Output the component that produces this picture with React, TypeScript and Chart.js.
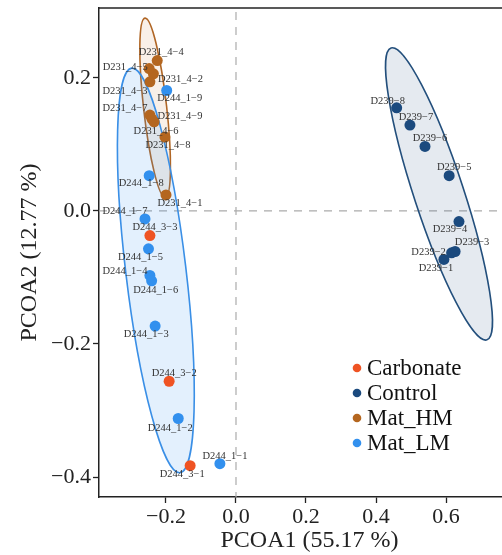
import { useEffect, useRef } from "react";
import { Chart, registerables } from "chart.js";

Chart.register(...registerables);

// ---------- data ----------
const groupNames = ["Carbonate", "Control", "Mat_HM", "Mat_LM"];

const carbonateLabels = ["D244_3−1", "D244_3−2", "D244_3−3"];
const carbonateX = [-0.131, -0.191, -0.246];
const carbonateY = [-0.383, -0.256, -0.037];

const controlLabels = ["D239−1", "D239−2", "D239−3", "D239−4", "D239−5", "D239−6", "D239−7", "D239−8"];
const controlX = [0.594, 0.616, 0.626, 0.637, 0.609, 0.54, 0.497, 0.459];
const controlY = [-0.073, -0.063, -0.061, -0.016, 0.053, 0.097, 0.129, 0.155];

const matHMLabels = ["D231_4−1", "D231_4−2", "D231_4−3", "D231_4−4", "D231_4−5", "D231_4−6", "D231_4−7", "D231_4−8", "D231_4−9"];
const matHMX = [-0.2, -0.236, -0.246, -0.225, -0.248, -0.234, -0.246, -0.203, -0.24];
const matHMY = [0.024, 0.206, 0.194, 0.226, 0.214, 0.134, 0.144, 0.111, 0.138];

const matLMLabels = ["D244_1−1", "D244_1−2", "D244_1−3", "D244_1−4", "D244_1−5", "D244_1−6", "D244_1−7", "D244_1−8", "D244_1−9"];
const matLMX = [-0.046, -0.165, -0.231, -0.246, -0.25, -0.241, -0.26, -0.248, -0.198];
const matLMY = [-0.38, -0.312, -0.173, -0.097, -0.057, -0.105, -0.012, 0.053, 0.181];

const xTicks = [-0.2, 0, 0.2, 0.4, 0.6];
const yTicks = [-0.4, -0.2, 0, 0.2];

// confidence ellipses (data units): centre, tip of the long axis, half-width in x units
const ellipseGroups = ["Control", "Mat_HM", "Mat_LM"];
const ellipseCX = [0.58, -0.231, -0.229];
const ellipseCY = [0.0256, 0.155, -0.0895];
const ellipseTipX = [0.443, -0.26, -0.298];
const ellipseTipY = [0.245, 0.2898, 0.2146];
const ellipseHalfWidth = [0.071, 0.033, 0.086];

// ---------- styles ----------
const FONT = "'Liberation Serif', 'Times New Roman', serif";
const groupColors: Record<string, string> = {
  Carbonate: "#EF5323",
  Control: "#1B4A7E",
  Mat_HM: "#B4661F",
  Mat_LM: "#3290EE",
};
const ellipseStroke: Record<string, string> = {
  Control: "#234F7C",
  Mat_HM: "#B06625",
  Mat_LM: "#3A8FE6",
};
const ellipseFill: Record<string, string> = {
  Control: "rgba(40,80,130,0.12)",
  Mat_HM: "rgba(200,120,50,0.11)",
  Mat_LM: "rgba(60,150,240,0.14)",
};
// label offsets (px) from the point
const labelOffsets: Record<string, [number, number]> = {
  "D244_3−1": [-8, 9],
  "D244_3−2": [5, -8],
  "D244_3−3": [5, -8],
  "D239−1": [-8, 9],
  "D239−2": [-23, -1],
  "D239−3": [17, -9],
  "D239−4": [-9, 8],
  "D239−5": [5, -8],
  "D239−6": [5, -8],
  "D239−7": [6, -8],
  "D239−8": [-9, -7],
  "D231_4−1": [14, 8],
  "D231_4−2": [27, 5],
  "D231_4−3": [-25, 9],
  "D231_4−4": [4, -8],
  "D231_4−5": [-24, -1],
  "D231_4−6": [2, 9],
  "D231_4−7": [-25, -7],
  "D231_4−8": [3, 8],
  "D231_4−9": [28, -3],
  "D244_1−1": [5, -7],
  "D244_1−2": [-8, 10],
  "D244_1−3": [-9, 8],
  "D244_1−4": [-25, -4],
  "D244_1−5": [-8, 8],
  "D244_1−6": [4, 9],
  "D244_1−7": [-20, -8],
  "D244_1−8": [-8, 8],
  "D244_1−9": [13, 8],
};

const fmt = (v: number) => {
  const s = Math.abs(v) < 1e-9 ? "0.0" : v.toFixed(1);
  return s.replace("-", "\u2212");
};

const zeroPad = (s: any) => {
  s.paddingTop = 0;
  s.paddingBottom = 0;
  s.paddingLeft = 0;
  s.paddingRight = 0;
};

const backgroundPlugin = {
  id: "bgLayers",
  beforeDatasetsDraw(chart: any) {
    const { ctx, chartArea, scales } = chart;
    const xs = scales.x;
    const ys = scales.y;
    ctx.save();
    ctx.beginPath();
    ctx.rect(chartArea.left, chartArea.top, chartArea.right - chartArea.left, chartArea.bottom - chartArea.top);
    ctx.clip();
    // zero lines
    ctx.strokeStyle = "#ababab";
    ctx.lineWidth = 1.2;
    ctx.setLineDash([8, 7]);
    const x0 = xs.getPixelForValue(0);
    const y0 = ys.getPixelForValue(0);
    ctx.beginPath();
    ctx.moveTo(x0, chartArea.top + 4);
    ctx.lineTo(x0, chartArea.bottom);
    ctx.moveTo(chartArea.left, y0);
    ctx.lineTo(chartArea.right, y0);
    ctx.stroke();
    ctx.setLineDash([]);
    // ellipses
    const pxPerX = Math.abs(xs.getPixelForValue(1) - xs.getPixelForValue(0));
    ellipseGroups.forEach((g, i) => {
      const cx = xs.getPixelForValue(ellipseCX[i]);
      const cy = ys.getPixelForValue(ellipseCY[i]);
      const tx = xs.getPixelForValue(ellipseTipX[i]);
      const ty = ys.getPixelForValue(ellipseTipY[i]);
      const a = Math.hypot(tx - cx, ty - cy);
      const ang = Math.atan2(ty - cy, tx - cx);
      const b = ellipseHalfWidth[i] * pxPerX;
      ctx.beginPath();
      ctx.ellipse(cx, cy, a, b, ang, 0, Math.PI * 2);
      ctx.fillStyle = ellipseFill[g];
      ctx.fill();
      ctx.lineWidth = 1.6;
      ctx.strokeStyle = ellipseStroke[g];
      ctx.stroke();
    });
    ctx.restore();
  },
};

const labelPlugin = {
  id: "pointLabels",
  afterDatasetsDraw(chart: any) {
    const { ctx } = chart;
    ctx.save();
    ctx.font = `10.5px ${FONT}`;
    ctx.fillStyle = "#333";
    ctx.textAlign = "center";
    ctx.textBaseline = "middle";
    chart.data.datasets.forEach((ds: any, di: number) => {
      const meta = chart.getDatasetMeta(di);
      ds.data.forEach((d: any, i: number) => {
        const el = meta.data[i];
        if (!el) return;
        const off = labelOffsets[d.label] || [0, -9];
        ctx.fillText(d.label, el.x + off[0], el.y + off[1]);
      });
    });
    ctx.restore();
  },
};

const framePlugin = {
  id: "frameLegend",
  afterDraw(chart: any) {
    const { ctx, chartArea } = chart;
    ctx.save();
    ctx.strokeStyle = "#222";
    ctx.lineWidth = 1.5;
    ctx.beginPath();
    ctx.moveTo(chartArea.left, chartArea.top);
    ctx.lineTo(chartArea.right, chartArea.top);
    ctx.stroke();
    // legend
    const lx = chartArea.left + 258;
    const ly = chartArea.bottom - 129;
    ctx.font = `23px ${FONT}`;
    ctx.textBaseline = "middle";
    ctx.textAlign = "left";
    chart.data.datasets.forEach((ds: any, i: number) => {
      const y = ly + i * 25;
      ctx.fillStyle = ds.backgroundColor;
      ctx.beginPath();
      ctx.arc(lx, y, 4.3, 0, Math.PI * 2);
      ctx.fill();
      ctx.fillStyle = "#111";
      ctx.fillText(ds.label, lx + 10, y + 1);
    });
    ctx.restore();
  },
};

function makeData(labels: string[], xs: number[], ys: number[]) {
  return labels.map((label, i) => ({ x: xs[i], y: ys[i], label }));
}

export default function App() {
  const ref = useRef<HTMLCanvasElement | null>(null);

  useEffect(() => {
    if (!ref.current) return;
    const series: Record<string, any[]> = {
      Carbonate: makeData(carbonateLabels, carbonateX, carbonateY),
      Control: makeData(controlLabels, controlX, controlY),
      Mat_HM: makeData(matHMLabels, matHMX, matHMY),
      Mat_LM: makeData(matLMLabels, matLMX, matLMY),
    };
    const chart = new Chart(ref.current, {
      type: "scatter",
      data: {
        datasets: groupNames.map((g) => ({
          label: g,
          data: series[g],
          backgroundColor: groupColors[g],
          borderWidth: 0,
          pointRadius: 5.5,
          pointHoverRadius: 5.5,
        })),
      },
      options: {
        animation: false,
        responsive: false,
        maintainAspectRatio: false,
        layout: { autoPadding: false, padding: { top: 8, right: 0, left: 0, bottom: 0 } },
        plugins: {
          legend: { display: false },
          tooltip: { enabled: false },
        },
        scales: {
          x: {
            type: "linear",
            min: -0.3914,
            max: 0.8114,
            afterBuildTicks: (s: any) => {
              s.ticks = xTicks.map((v) => ({ value: v }));
            },
            afterFit: (s: any) => {
              s.height = 58;
              zeroPad(s);
            },
            grid: { display: true, drawOnChartArea: false, drawTicks: true, tickLength: 6, tickColor: "#222", tickWidth: 1.3 },
            border: { display: true, color: "#222", width: 1.5 },
            ticks: {
              padding: 1,
              color: "#222",
              font: { family: FONT, size: 22 },
              maxRotation: 0,
              callback: (v: any) => fmt(Number(v)),
            },
            title: {
              display: true,
              text: "PCOA1 (55.17 %)",
              color: "#222",
              font: { family: FONT, size: 24 },
              padding: { top: 0, bottom: 0 },
            },
          },
          y: {
            type: "linear",
            min: -0.43,
            max: 0.305,
            afterBuildTicks: (s: any) => {
              s.ticks = yTicks.map((v) => ({ value: v }));
            },
            afterFit: (s: any) => {
              s.width = 99;
              zeroPad(s);
            },
            grid: { display: true, drawOnChartArea: false, drawTicks: true, tickLength: 6, tickColor: "#222", tickWidth: 1.3 },
            border: { display: true, color: "#222", width: 1.5 },
            ticks: {
              padding: 2,
              color: "#222",
              font: { family: FONT, size: 22 },
              callback: (v: any) => fmt(Number(v)),
            },
            title: {
              display: true,
              text: "PCOA2 (12.77 %)",
              color: "#222",
              font: { family: FONT, size: 24 },
              padding: { top: 15, bottom: 0 },
            },
          },
        },
      },
      plugins: [backgroundPlugin, labelPlugin, framePlugin],
    } as any);
    return () => chart.destroy();
  }, []);

  return (
    <div style={{ position: "fixed", left: 0, top: 0, width: 502, height: 555, overflow: "hidden", background: "#fff" }}>
      <canvas ref={ref} width={520} height={555} style={{ width: 520, height: 555, display: "block" }} />
    </div>
  );
}
